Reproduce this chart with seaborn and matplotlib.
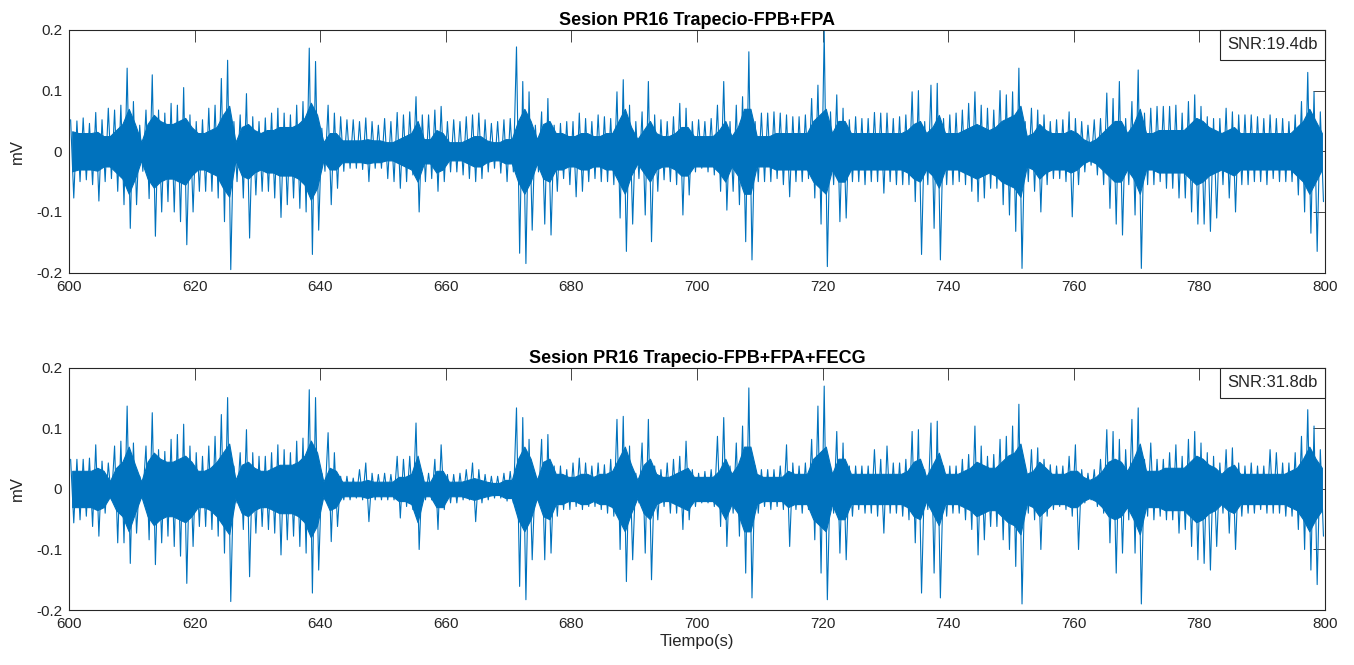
import numpy as np
import pandas as pd
import matplotlib
matplotlib.use("Agg")
import matplotlib.pyplot as plt
import seaborn as sns
from matplotlib.offsetbox import AnchoredText

# one reading per second of the record (600 s .. 799 s)
seconds = np.arange(600, 800)

# --- Panel 1: FPB+FPA -------------------------------------------------------
# max of the signal in each second (mV)
fpa_hi = [
    .052, .050, .055, .046, .064, .052, .071, .068, .076, .137,
    .082, .043, .068, .126, .068, .063, .079, .076, .105, .060,
    .049, .052, .071, .076, .120, .150, .049, .060, .095, .057,
    .049, .055, .063, .071, .063, .060, .076, .082, .170, .148,
    .038, .076, .063, .057, .052, .052, .049, .055, .049, .043,
    .054, .049, .064, .060, .065, .090, .060, .060, .068, .074,
    .049, .052, .049, .057, .060, .063, .052, .046, .049, .052,
    .054, .172, .115, .098, .043, .065, .087, .043, .046, .049,
    .049, .063, .054, .049, .060, .057, .054, .098, .118, .076,
    .049, .065, .115, .060, .052, .049, .057, .079, .071, .049,
    .052, .049, .054, .076, .115, .049, .076, .090, .164, .049,
    .063, .063, .065, .063, .060, .057, .057, .060, .087, .109,
    .198, .065, .093, .071, .052, .057, .054, .054, .064, .063,
    .063, .054, .057, .060, .098, .100, .049, .109, .112, .054,
    .060, .063, .068, .079, .098, .076, .071, .068, .100, .093,
    .098, .137, .049, .071, .068, .060, .049, .052, .052, .065,
    .054, .049, .043, .052, .054, .096, .087, .115, .054, .082,
    .134, .063, .071, .074, .074, .074, .076, .063, .082, .093,
    .074, .057, .054, .054, .071, .065, .060, .060, .060, .057,
    .054, .060, .054, .054, .049, .060, .082, .130, .098, .065,
]
# min of the signal in each second (mV)
fpa_lo = [
    -.077, -.050, -.047, -.055, -.082, -.050, -.045, -.066, -.088, -.127,
    -.088, -.033, -.078, -.140, -.100, -.083, -.100, -.116, -.154, -.100,
    -.066, -.066, -.066, -.077, -.116, -.195, -.050, -.077, -.143, -.072,
    -.066, -.066, -.077, -.109, -.088, -.077, -.094, -.100, -.170, -.130,
    -.033, -.088, -.061, -.033, -.028, -.028, -.030, -.050, -.028, -.028,
    -.045, -.050, -.061, -.050, -.039, -.100, -.050, -.045, -.066, -.050,
    -.034, -.034, -.039, -.045, -.050, -.045, -.034, -.028, -.036, -.050,
    -.034, -.168, -.185, -.130, -.034, -.120, -.138, -.066, -.045, -.055,
    -.075, -.066, -.050, -.045, -.050, -.050, -.055, -.110, -.165, -.120,
    -.045, -.105, -.149, -.066, -.047, -.050, -.055, -.105, -.072, -.034,
    -.028, -.034, -.039, -.066, -.097, -.066, -.088, -.149, -.179, -.050,
    -.050, -.050, -.045, -.055, -.075, -.050, -.050, -.045, -.077, -.120,
    -.190, -.055, -.116, -.110, -.050, -.050, -.055, -.050, -.050, -.069,
    -.050, -.055, -.055, -.055, -.083, -.170, -.055, -.127, -.179, -.055,
    -.055, -.050, -.055, -.066, -.083, -.077, -.061, -.061, -.088, -.105,
    -.132, -.193, -.050, -.066, -.100, -.055, -.045, -.045, -.050, -.108,
    -.055, -.034, -.023, -.039, -.055, -.094, -.120, -.138, -.055, -.105,
    -.193, -.055, -.055, -.050, -.061, -.061, -.077, -.077, -.100, -.120,
    -.120, -.132, -.110, -.055, -.077, -.100, -.055, -.055, -.050, -.050,
    -.055, -.045, -.050, -.050, -.050, -.072, -.100, -.135, -.165, -.083,
]
# half-width of the dense part of the trace in each second (mV)
fpa_core = [
    .033, .030, .030, .030, .032, .025, .025, .035, .045, .070,
    .045, .015, .045, .060, .050, .045, .045, .050, .055, .040,
    .030, .030, .035, .040, .060, .075, .015, .040, .045, .035,
    .030, .035, .035, .040, .040, .040, .045, .055, .080, .060,
    .015, .030, .030, .018, .018, .018, .018, .020, .018, .018,
    .015, .015, .020, .025, .030, .050, .020, .020, .035, .030,
    .015, .015, .015, .020, .025, .025, .018, .015, .015, .020,
    .020, .050, .070, .050, .020, .045, .050, .030, .030, .025,
    .025, .030, .030, .025, .025, .030, .030, .050, .070, .040,
    .020, .035, .050, .030, .025, .025, .030, .040, .040, .025,
    .025, .025, .025, .035, .050, .025, .040, .070, .070, .025,
    .025, .025, .030, .030, .030, .030, .030, .030, .050, .060,
    .070, .030, .050, .050, .030, .030, .030, .030, .030, .030,
    .030, .030, .030, .035, .045, .050, .030, .040, .060, .030,
    .030, .030, .035, .040, .045, .040, .035, .040, .050, .055,
    .060, .075, .025, .030, .045, .035, .030, .030, .030, .035,
    .030, .020, .015, .020, .030, .040, .050, .050, .030, .045,
    .070, .030, .030, .035, .035, .035, .035, .035, .045, .055,
    .050, .040, .035, .030, .035, .040, .030, .030, .030, .030,
    .030, .030, .030, .030, .030, .040, .050, .070, .050, .030,
]

# --- Panel 2: FPB+FPA+FECG --------------------------------------------------
fecg_hi = [
    .049, .049, .049, .051, .073, .046, .043, .071, .079, .137,
    .076, .021, .071, .126, .065, .062, .082, .090, .107, .071,
    .060, .054, .071, .087, .123, .151, .038, .060, .098, .060,
    .054, .054, .060, .073, .065, .060, .079, .084, .164, .151,
    .026, .093, .060, .021, .021, .018, .032, .043, .026, .024,
    .026, .024, .054, .049, .054, .109, .026, .026, .049, .073,
    .024, .024, .026, .032, .043, .032, .024, .021, .021, .026,
    .029, .134, .118, .082, .024, .082, .090, .038, .038, .032,
    .043, .051, .043, .038, .043, .040, .049, .115, .120, .071,
    .026, .076, .115, .038, .032, .043, .049, .054, .079, .032,
    .026, .029, .032, .087, .118, .038, .076, .104, .167, .038,
    .032, .032, .032, .038, .073, .043, .038, .043, .082, .137,
    .170, .038, .095, .076, .038, .038, .038, .038, .065, .049,
    .071, .043, .043, .049, .095, .098, .032, .109, .112, .038,
    .038, .038, .049, .057, .104, .071, .054, .057, .082, .087,
    .104, .140, .038, .065, .068, .049, .040, .038, .038, .054,
    .073, .032, .026, .032, .049, .098, .095, .082, .065, .115,
    .134, .049, .076, .049, .049, .060, .073, .054, .082, .095,
    .076, .060, .054, .043, .065, .068, .043, .038, .043, .038,
    .038, .065, .060, .043, .043, .060, .087, .131, .104, .065,
]
fecg_lo = [
    -.056, -.051, -.045, -.062, -.078, -.040, -.018, -.089, -.089, -.123,
    -.073, -.012, -.084, -.125, -.089, -.078, -.095, -.111, -.156, -.095,
    -.062, -.062, -.067, -.078, -.106, -.186, -.023, -.067, -.145, -.073,
    -.062, -.067, -.073, -.109, -.084, -.078, -.095, -.106, -.172, -.134,
    -.018, -.087, -.062, -.018, -.018, -.015, -.018, -.054, -.018, -.018,
    -.018, -.018, -.048, -.029, -.034, -.100, -.018, -.018, -.067, -.034,
    -.023, -.023, -.018, -.018, -.054, -.023, -.018, -.015, -.015, -.020,
    -.023, -.161, -.183, -.117, -.018, -.117, -.106, -.045, -.034, -.034,
    -.029, -.034, -.029, -.029, -.034, -.040, -.045, -.100, -.153, -.117,
    -.023, -.106, -.150, -.051, -.029, -.040, -.040, -.067, -.051, -.029,
    -.023, -.023, -.029, -.062, -.095, -.040, -.078, -.139, -.180, -.040,
    -.029, -.034, -.029, -.034, -.095, -.034, -.040, -.034, -.084, -.139,
    -.183, -.040, -.106, -.117, -.045, -.034, -.040, -.040, -.045, -.073,
    -.040, -.040, -.045, -.051, -.089, -.172, -.034, -.139, -.180, -.045,
    -.040, -.040, -.051, -.067, -.109, -.084, -.062, -.062, -.084, -.100,
    -.128, -.190, -.040, -.051, -.100, -.045, -.034, -.029, -.034, -.045,
    -.100, -.023, -.018, -.029, -.040, -.089, -.139, -.106, -.051, -.106,
    -.190, -.045, -.051, -.045, -.051, -.051, -.073, -.067, -.095, -.117,
    -.123, -.134, -.095, -.040, -.073, -.100, -.045, -.040, -.040, -.034,
    -.040, -.040, -.040, -.045, -.045, -.067, -.100, -.134, -.158, -.078,
]
fecg_core = [
    .030, .030, .030, .030, .035, .030, .013, .035, .045, .070,
    .040, .012, .045, .060, .050, .045, .045, .050, .055, .045,
    .030, .030, .035, .045, .060, .075, .015, .040, .045, .035,
    .030, .030, .035, .040, .040, .040, .045, .055, .080, .060,
    .012, .035, .030, .012, .012, .012, .012, .015, .012, .012,
    .012, .012, .020, .020, .025, .055, .012, .012, .030, .030,
    .012, .012, .012, .015, .018, .015, .012, .010, .010, .015,
    .015, .050, .070, .050, .015, .045, .050, .025, .025, .020,
    .020, .025, .025, .020, .025, .025, .030, .050, .070, .040,
    .015, .040, .050, .025, .020, .020, .025, .030, .035, .020,
    .020, .020, .020, .030, .050, .025, .040, .070, .070, .025,
    .020, .020, .020, .020, .030, .025, .025, .025, .050, .060,
    .070, .025, .050, .050, .025, .025, .025, .025, .025, .025,
    .025, .025, .025, .030, .045, .050, .020, .040, .060, .025,
    .025, .025, .030, .035, .045, .040, .035, .035, .045, .055,
    .060, .075, .025, .030, .045, .035, .025, .025, .025, .030,
    .030, .020, .015, .020, .030, .045, .050, .045, .030, .050,
    .075, .030, .030, .030, .035, .035, .035, .035, .045, .055,
    .050, .040, .035, .025, .035, .040, .025, .025, .025, .025,
    .025, .025, .025, .025, .030, .035, .050, .070, .050, .035,
]

titles = ["Sesion PR16 Trapecio-FPB+FPA", "Sesion PR16 Trapecio-FPB+FPA+FECG"]
snr_labels = ["SNR:19.4db", "SNR:31.8db"]
x_ticks = [600, 620, 640, 660, 680, 700, 720, 740, 760, 780, 800]
y_ticks = [-0.2, -0.1, 0, 0.1, 0.2]
y_tick_labels = ["-0.2", "-0.1", "0", "0.1", "0.2"]

AZUL = "#0072BD"
GRIS = "#262626"


def trace_frame(hi, lo):
    # max then min inside every second -> zig-zag like the raw EMG trace
    t = np.concatenate([seconds + 0.25, seconds + 0.75])
    v = np.concatenate([hi, lo])
    order = np.argsort(t)
    return pd.DataFrame({"Tiempo": t[order], "mV": v[order]})


def draw_panel(ax, hi, lo, core, title, snr):
    core = np.asarray(core)
    ax.fill_between(seconds + 0.5, -core, core, color=AZUL, lw=0.8, edgecolor=AZUL)
    sns.lineplot(data=trace_frame(hi, lo), x="Tiempo", y="mV", ax=ax,
                 color=AZUL, lw=0.8, estimator=None, sort=False)
    ax.set_xlim(600, 800)
    ax.set_ylim(-0.2, 0.2)
    ax.set_xticks(x_ticks)
    ax.set_yticks(y_ticks)
    ax.set_yticklabels(y_tick_labels)
    ax.tick_params(direction="in", length=8.5, width=0.6, top=True, right=True,
                   color=GRIS, labelcolor=GRIS, labelsize=11, pad=5)
    for s in ax.spines.values():
        s.set_color(GRIS)
        s.set_linewidth(0.8)
    ax.set_title(title, fontsize=13, fontweight="bold", color="black", pad=3.5)
    ax.set_ylabel("mV", fontsize=12, color=GRIS, labelpad=8)
    ax.set_xlabel("")
    box = AnchoredText(snr, loc="upper right", borderpad=0, pad=0.45,
                       prop=dict(size=12, color=GRIS))
    box.patch.set_edgecolor(GRIS)
    box.patch.set_linewidth(0.8)
    ax.add_artist(box)


sns.set_style("white")
plt.rcParams["font.family"] = ["Liberation Sans", "DejaVu Sans"]

fig = plt.figure(figsize=(13.54, 6.65), dpi=100)
ax1 = fig.add_axes([0.051, 0.590, 0.9276, 0.365])
ax2 = fig.add_axes([0.051, 0.0827, 0.9276, 0.364])

draw_panel(ax1, fpa_hi, fpa_lo, fpa_core, titles[0], snr_labels[0])
draw_panel(ax2, fecg_hi, fecg_lo, fecg_core, titles[1], snr_labels[1])
ax2.set_xlabel("Tiempo(s)", fontsize=12, color=GRIS, labelpad=2)

fig.savefig("out.png", dpi=100, facecolor="white")
